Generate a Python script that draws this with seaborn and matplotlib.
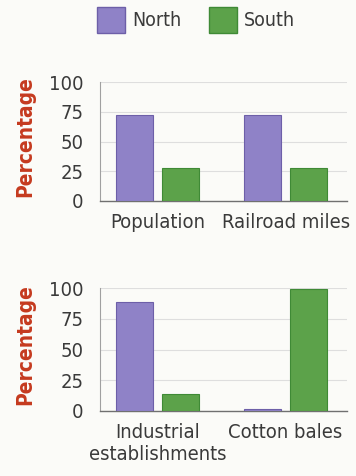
import matplotlib
matplotlib.use("Agg")
import matplotlib.pyplot as plt
import seaborn as sns
import pandas as pd
from matplotlib.patches import Patch

# Data
regions = ["North", "South"]
top_categories = ["Population", "Railroad miles"]
top_north = [72, 72]
top_south = [28, 28]
bottom_categories = ["Industrial\nestablishments", "Cotton bales"]
bottom_north = [89, 2]
bottom_south = [14, 99]
y_ticks = [0, 25, 50, 75, 100]
y_label = "Percentage"

colors = {"North": "#8f82c7", "South": "#5ca24a"}
edge_colors = {"North": "#6d5fa8", "South": "#3f8a36"}
bg = "#fbfbf8"

sns.set_theme(style="white")
plt.rcParams["font.family"] = ["DejaVu Sans"]
plt.rcParams["font.stretch"] = "condensed"

def long_df(cats, north, south):
    return pd.DataFrame({
        "category": cats * 2,
        "region": ["North"] * len(cats) + ["South"] * len(cats),
        "value": list(north) + list(south),
    })

fig = plt.figure(figsize=(3.56, 4.76), dpi=100, facecolor=bg)
ax1 = fig.add_axes([100/356, 1-201/476, 247/356, 119/476])
ax2 = fig.add_axes([100/356, 1-411/476, 247/356, 123/476])

for ax, cats, n, s, ycenter in [
    (ax1, top_categories, top_north, top_south, 1-137/476),
    (ax2, bottom_categories, bottom_north, bottom_south, 1-345/476),
]:
    ax.set_facecolor(bg)
    df = long_df(cats, n, s)
    sns.barplot(data=df, x="category", y="value", hue="region",
                hue_order=regions, palette=colors, width=0.72, gap=0.2,
                legend=False, ax=ax, saturation=1, zorder=3)
    for cont, reg in zip(ax.containers, regions):
        for p in cont:
            p.set_edgecolor(edge_colors[reg])
            p.set_linewidth(0.8)
    ax.set_ylim(0, 100)
    ax.set_xlim(-0.45, 1.48)
    ax.set_yticks(y_ticks)
    ax.yaxis.grid(True, color="#dedede", linewidth=0.8, zorder=0)
    ax.set_axisbelow(True)
    ax.set_xlabel("")
    ax.set_ylabel("")
    ax.tick_params(axis="y", length=0, pad=12, labelsize=14.5, labelcolor="#3a3a3a")
    ax.tick_params(axis="x", length=0, pad=9, labelsize=14.5, labelcolor="#3a3a3a")
    for sp in ["top", "right"]:
        ax.spines[sp].set_visible(False)
    ax.spines["left"].set_color("#a0a0a0")
    ax.spines["left"].set_linewidth(0.8)
    ax.spines["bottom"].set_color("#707070")
    ax.spines["bottom"].set_linewidth(1.0)
    fig.text(25/356, ycenter, y_label, rotation=90, ha="center", va="center",
             fontsize=15, fontweight="bold", color="#c53a1f")

handles = [Patch(facecolor=colors[r], edgecolor=edge_colors[r], label=r) for r in regions]
fig.legend(handles=handles, loc="center", bbox_to_anchor=(196/356, 1-20/476),
           ncol=2, frameon=False, fontsize=14, handlelength=1.45, handleheight=1.7,
           handletextpad=0.36, columnspacing=1.4, labelcolor="#3a3a3a")

fig.savefig("out.png", dpi=100, facecolor=bg)
